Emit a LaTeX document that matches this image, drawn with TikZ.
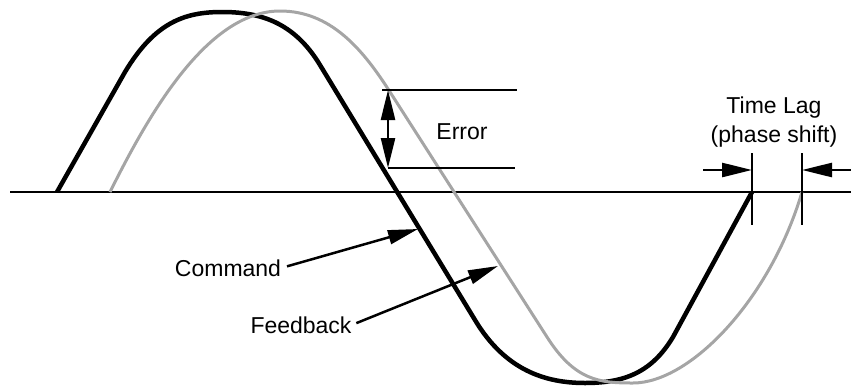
\documentclass[tikz,border=0pt]{standalone}
\usepackage{fontspec}
\setmainfont{Liberation Sans}
\usetikzlibrary{arrows.meta,positioning}
\definecolor{ink}{RGB}{0,0,0}
\definecolor{fog}{RGB}{165,165,165}
\tikzset{
  >={Triangle[length=30pt,width=14pt]},
  command/.style={draw=ink,line width=4.5pt,line join=round},
  feedback/.style={draw=fog,line width=3pt},
  rule/.style={draw=ink,line width=2.5pt},
  pointer/.style={->,draw=ink,line width=2.5pt},
  tag/.style={font=\fontsize{23}{29}\selectfont,text=ink,align=center,inner sep=0pt},
}
\begin{document}
\begin{tikzpicture}[x=1pt,y=-1pt]
  \useasboundingbox (0,0) rectangle (851,386);
  % time axis
  \draw[rule] (10,192) -- (851,192);
  % command and feedback waves
  \draw[command] (57,192) -- (125,72) .. controls (155,22) and (185,12) .. (222,12)
    .. controls (260,12) and (294,22) .. (320,65) -- (475,320)
    .. controls (505,370) and (545,383) .. (585,383)
    .. controls (625,383) and (652,372) .. (673,337) -- (752,192);
  \draw[feedback] (110,192) .. controls (145,122) and (205,11) .. (280,11)
    .. controls (330,11) and (362,48) .. (390,92) -- (547,337)
    .. controls (575,381) and (600,383) .. (633,383)
    .. controls (690,383) and (770,300) .. (802,192);
  % error band
  \coordinate (errTop) at (388,90);
  \coordinate (errBot) at (388,168);
  \draw[rule] (382,90) -- (517,90);
  \draw[rule] (errBot) -- (515,168);
  \draw[<->,draw=ink,line width=2.5pt] (errTop) -- (errBot);
  \node[tag] (err) at (462,132) {Error};
  % time lag markers
  \coordinate (lagA) at (752,170);
  \coordinate (lagB) at (802,170);
  \coordinate (lagAfrom) at (703,170);
  \coordinate (lagBfrom) at (851,170);
  \draw[rule] (752,153) -- (752,225);
  \draw[rule] (802,153) -- (802,225);
  \draw[pointer] (lagAfrom) -- (lagA);
  \draw[pointer] (lagBfrom) -- (lagB);
  \node[tag] (lag) at (774,122) {Time Lag\\(phase shift)};
  % labels
  \node[tag] (cmd) at (228,268) {Command};
  \node[tag] (fbk) at (301,325) {Feedback};
  \coordinate (cmdTip) at (418,229);
  \coordinate (fbkTip) at (498,266);
  \draw[pointer,shorten <=6pt] (cmd.east) -- (cmdTip);
  \draw[pointer,shorten <=5pt] (fbk.east) -- (fbkTip);
\end{tikzpicture}
\end{document}
